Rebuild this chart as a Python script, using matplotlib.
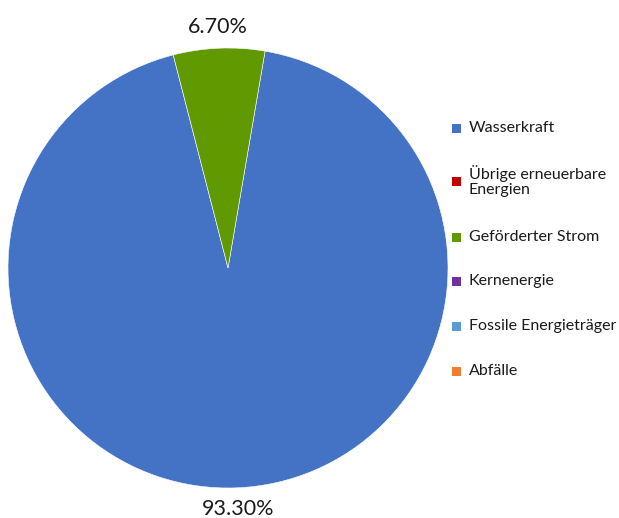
import matplotlib.pyplot as plt
from matplotlib.patches import Rectangle

plt.rcParams['font.family'] = ['Lato', 'DejaVu Sans']

# Data
labels = ['Wasserkraft', 'Übrige erneuerbare\nEnergien', 'Geförderter Strom',
          'Kernenergie', 'Fossile Energieträger', 'Abfälle']
values = [93.3, 0.0, 6.7, 0.0, 0.0, 0.0]
colors = ['#4472C4', '#C00000', '#609900', '#7030A0', '#5B9BD5', '#ED7D31']

W, H = 619, 518
fig = plt.figure(figsize=(W / 100, H / 100), dpi=100)

# pie axes: centre (228, 268), radius 220 px
cx, cy, r = 228, 268, 220
ax = fig.add_axes([(cx - r) / W, (H - cy - r) / H, 2 * r / W, 2 * r / H])

vals = [v for v in values if v > 0]
cols = [c for v, c in zip(values, colors) if v > 0]
ax.pie(vals, colors=cols, startangle=80.3, counterclock=False, radius=1,
       autopct=lambda p: '%.2f%%' % p, pctdistance=1.095,
       wedgeprops=dict(edgecolor='white', linewidth=0.4),
       textprops=dict(fontsize=15.5, color='#1a1a1a'))
ax.set_xlim(-1, 1)
ax.set_ylim(-1, 1)
ax.set_aspect('equal')
ax.axis('off')

# legend drawn by hand
ys = [128, 181, 237, 281, 326, 371]
for lab, col, y in zip(labels, colors, ys):
    fig.patches.append(Rectangle((452 / W, (H - y - 4.5) / H), 9 / W, 9 / H,
                                 transform=fig.transFigure, facecolor=col,
                                 edgecolor='none'))
    fig.text(469 / W, (H - y) / H, lab, fontsize=11.5, va='center', ha='left',
             color='#1a1a1a', linespacing=1.05)

fig.savefig('out.png', dpi=100)
